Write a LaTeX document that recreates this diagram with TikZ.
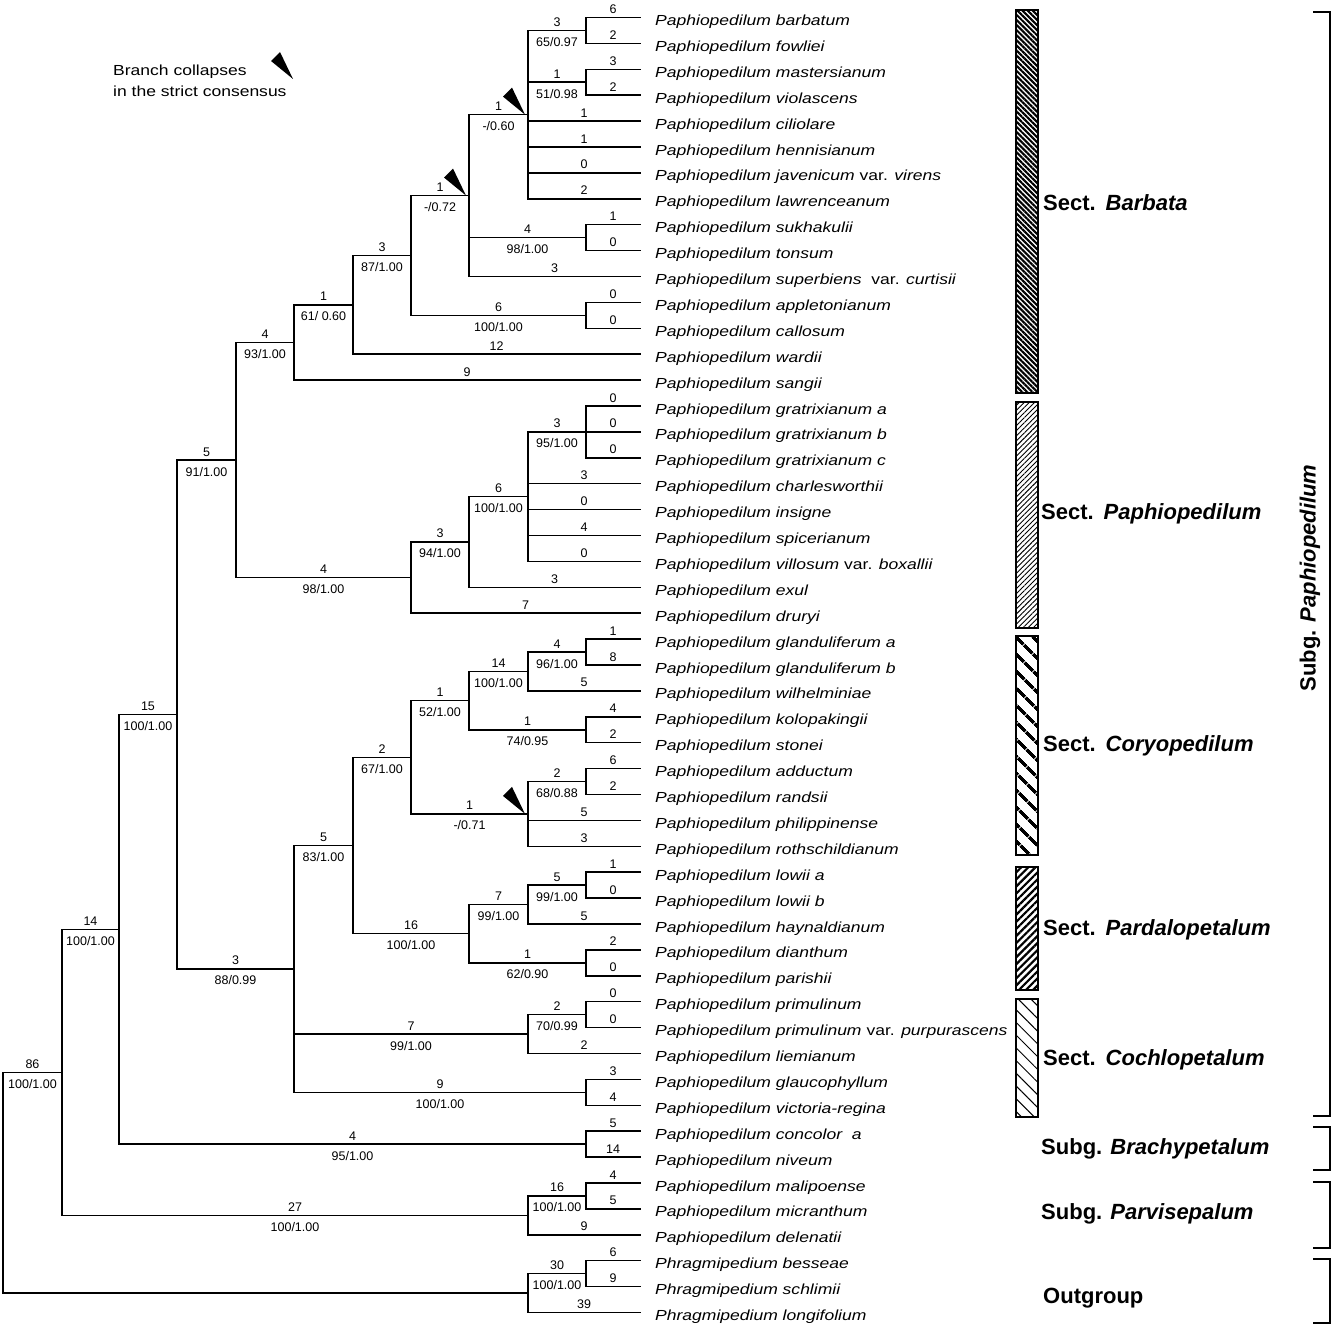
\documentclass[tikz,border=0pt]{standalone}
\usepackage{fontspec}
\setmainfont{Liberation Sans}
\newfontfamily\namefont[FakeStretch=1.2]{Liberation Sans}
\usetikzlibrary{calc,patterns.meta}
\newcommand\inode[4]{\path ($(#3)!.5!(#4)$) coordinate (m#1); \coordinate (#1) at (m#1 -| #2);}
\newcommand\vbr[3]{\draw[branch] (#1 |- #2) -- (#1 |- #3);}
\newcommand\hbr[4]{\draw[branch] (#1 |- #2) -- node[lenlab]{#3} node[suplab]{#4} (#2);}
\newcommand\hbl[3]{\draw[branch] (#1 |- #2) -- node[lenlab]{#3} (#2);}
\newcommand\hbn[2]{\draw[branch] (#1 |- #2) -- (#2);}
\newcommand\wedgeat[1]{\fill ($(#1)+(-3,0)$) -- ++(-22,-18) -- ++(9,-9) -- cycle;}
\begin{document}
\begin{tikzpicture}[x=1pt,y=-1pt,
  branch/.style={line width=1.5pt, line cap=rect},
  numfont/.style={font=\fontsize{12.5}{14}\selectfont},
  lenlab/.style={midway, anchor=base, yshift=4pt, inner sep=0pt, numfont},
  suplab/.style={midway, anchor=base, yshift=-16pt, inner sep=0pt, numfont},
  taxon/.style={anchor=base west, inner sep=0pt, font=\namefont\fontsize{14.6}{17}\selectfont\itshape},
  sect/.style={anchor=west, inner sep=0pt, font=\fontsize{22}{25}\selectfont\bfseries},
  bar/.style={line width=1.4pt},
  bracket/.style={line width=1.4pt}]
\useasboundingbox (0,0) rectangle (1334,1330);
% x levels
\foreach \xx in {3,62,119,177,236,294,353,411,469,528,586} {\coordinate (X\xx) at (\xx,0);}
% tips
\foreach \i in {1,...,51} {\coordinate (t\i) at (640,{17.5+(\i-1)*25.9});}
% internal nodes
\inode{A1}{X586}{t1}{t2}
\inode{A2}{X586}{t3}{t4}
\inode{A3}{X528}{A1}{t8}
\inode{A4}{X586}{t9}{t10}
\inode{A5}{X469}{A3}{t11}
\inode{A6}{X586}{t12}{t13}
\inode{A7}{X411}{A5}{A6}
\inode{A8}{X353}{A7}{t14}
\inode{A9}{X294}{A8}{t15}
\inode{B1}{X586}{t16}{t18}
\inode{B2}{X528}{B1}{t22}
\inode{B3}{X469}{B2}{t23}
\inode{B4}{X411}{B3}{t24}
\inode{C}{X236}{A9}{B4}
\inode{D1}{X586}{t25}{t26}
\inode{D2}{X528}{D1}{t27}
\inode{D3}{X586}{t28}{t29}
\inode{D4}{X469}{D2}{D3}
\inode{D5}{X586}{t30}{t31}
\inode{D6}{X528}{D5}{t33}
\inode{D7}{X411}{D4}{D6}
\inode{E1}{X586}{t34}{t35}
\inode{E2}{X528}{E1}{t36}
\inode{E3}{X586}{t37}{t38}
\inode{E4}{X469}{E2}{E3}
\inode{D8}{X353}{D7}{E4}
\inode{F1}{X586}{t39}{t40}
\inode{F2}{X528}{F1}{t41}
\inode{F3}{X586}{t42}{t43}
\inode{G}{X294}{D8}{F3}
\inode{H}{X177}{C}{G}
\inode{I1}{X586}{t44}{t45}
\inode{I}{X119}{H}{I1}
\inode{J1}{X586}{t46}{t47}
\inode{J2}{X528}{J1}{t48}
\inode{K}{X62}{I}{J2}
\inode{L1}{X586}{t49}{t50}
\inode{L2}{X528}{L1}{t51}
\inode{R}{X3}{K}{L2}
% verticals
\vbr{A1}{t1}{t2} \vbr{A2}{t3}{t4} \vbr{A3}{A1}{t8} \vbr{A4}{t9}{t10}
\vbr{A5}{A3}{t11} \vbr{A6}{t12}{t13} \vbr{A7}{A5}{A6} \vbr{A8}{A7}{t14}
\vbr{A9}{A8}{t15} \vbr{B1}{t16}{t18} \vbr{B2}{B1}{t22} \vbr{B3}{B2}{t23}
\vbr{B4}{B3}{t24} \vbr{C}{A9}{B4} \vbr{D1}{t25}{t26} \vbr{D2}{D1}{t27}
\vbr{D3}{t28}{t29} \vbr{D4}{D2}{D3} \vbr{D5}{t30}{t31} \vbr{D6}{D5}{t33}
\vbr{D7}{D4}{D6} \vbr{E1}{t34}{t35} \vbr{E2}{E1}{t36} \vbr{E3}{t37}{t38}
\vbr{E4}{E2}{E3} \vbr{D8}{D7}{E4} \vbr{F1}{t39}{t40} \vbr{F2}{F1}{t41}
\vbr{F3}{t42}{t43} \vbr{G}{D8}{F3} \vbr{H}{C}{G} \vbr{I1}{t44}{t45}
\vbr{I}{H}{I1} \vbr{J1}{t46}{t47} \vbr{J2}{J1}{t48} \vbr{K}{I}{J2}
\vbr{L1}{t49}{t50} \vbr{L2}{L1}{t51} \vbr{R}{K}{L2}
% horizontals: Barbata
\hbl{A1}{t1}{6} \hbl{A1}{t2}{2}
\hbl{A2}{t3}{3} \hbl{A2}{t4}{2}
\hbr{A3}{A1}{3}{65/0.97} \hbr{A3}{A2}{1}{51/0.98}
\hbl{A3}{t5}{1} \hbl{A3}{t6}{1} \hbl{A3}{t7}{0} \hbl{A3}{t8}{2}
\hbl{A4}{t9}{1} \hbl{A4}{t10}{0}
\hbr{A5}{A3}{1}{-/0.60} \hbr{A5}{A4}{4}{98/1.00} \hbl{A5}{t11}{3}
\hbl{A6}{t12}{0} \hbl{A6}{t13}{0}
\hbr{A7}{A5}{1}{-/0.72} \hbr{A7}{A6}{6}{100/1.00}
\hbr{A8}{A7}{3}{87/1.00} \hbl{A8}{t14}{12}
\hbr{A9}{A8}{1}{61/ 0.60} \hbl{A9}{t15}{9}
\hbr{C}{A9}{4}{93/1.00} \hbr{C}{B4}{4}{98/1.00}
% Paphiopedilum
\hbl{B1}{t16}{0} \hbl{B1}{t17}{0} \hbl{B1}{t18}{0}
\hbr{B2}{B1}{3}{95/1.00} \hbl{B2}{t19}{3} \hbl{B2}{t20}{0} \hbl{B2}{t21}{4} \hbl{B2}{t22}{0}
\hbr{B3}{B2}{6}{100/1.00} \hbl{B3}{t23}{3}
\hbr{B4}{B3}{3}{94/1.00} \hbl{B4}{t24}{7}
\hbr{H}{C}{5}{91/1.00} \hbr{H}{G}{3}{88/0.99}
% Coryopedilum
\hbl{D1}{t25}{1} \hbl{D1}{t26}{8}
\hbr{D2}{D1}{4}{96/1.00} \hbl{D2}{t27}{5}
\hbl{D3}{t28}{4} \hbl{D3}{t29}{2}
\hbr{D4}{D2}{14}{100/1.00} \hbr{D4}{D3}{1}{74/0.95}
\hbl{D5}{t30}{6} \hbl{D5}{t31}{2}
\hbr{D6}{D5}{2}{68/0.88} \hbl{D6}{t32}{5} \hbl{D6}{t33}{3}
\hbr{D7}{D4}{1}{52/1.00} \hbr{D7}{D6}{1}{-/0.71}
\hbr{D8}{D7}{2}{67/1.00} \hbr{D8}{E4}{16}{100/1.00}
% Pardalopetalum
\hbl{E1}{t34}{1} \hbl{E1}{t35}{0}
\hbr{E2}{E1}{5}{99/1.00} \hbl{E2}{t36}{5}
\hbl{E3}{t37}{2} \hbl{E3}{t38}{0}
\hbr{E4}{E2}{7}{99/1.00} \hbr{E4}{E3}{1}{62/0.90}
% Cochlopetalum
\hbr{G}{D8}{5}{83/1.00} \hbr{G}{F2}{7}{99/1.00} \hbr{G}{F3}{9}{100/1.00}
\hbl{F1}{t39}{0} \hbl{F1}{t40}{0}
\hbr{F2}{F1}{2}{70/0.99} \hbl{F2}{t41}{2}
\hbl{F3}{t42}{3} \hbl{F3}{t43}{4}
% rest
\hbr{I}{H}{15}{100/1.00} \hbr{I}{I1}{4}{95/1.00}
\hbl{I1}{t44}{5} \hbl{I1}{t45}{14}
\hbr{K}{I}{14}{100/1.00} \hbr{K}{J2}{27}{100/1.00}
\hbl{J1}{t46}{4} \hbl{J1}{t47}{5}
\hbr{J2}{J1}{16}{100/1.00} \hbl{J2}{t48}{9}
\hbr{R}{K}{86}{100/1.00} \hbn{R}{L2}
\hbl{L1}{t49}{6} \hbl{L1}{t50}{9}
\hbr{L2}{L1}{30}{100/1.00} \hbl{L2}{t51}{39}
% collapse markers
\wedgeat{A3} \wedgeat{A5} \wedgeat{D6}
\coordinate (lgw) at (296,79);
\wedgeat{lgw}
\node[anchor=west, align=left, inner sep=0pt, font=\namefont\fontsize{14.6}{21}\selectfont] (legend) at (113,81) {Branch collapses\\in the strict consensus};
% taxon names
\node[taxon] (n1) at ($(t1)+(15,8)$) {Paphiopedilum barbatum};
\node[taxon] (n2) at ($(t2)+(15,8)$) {Paphiopedilum fowliei};
\node[taxon] (n3) at ($(t3)+(15,8)$) {Paphiopedilum mastersianum};
\node[taxon] (n4) at ($(t4)+(15,8)$) {Paphiopedilum violascens};
\node[taxon] (n5) at ($(t5)+(15,8)$) {Paphiopedilum ciliolare};
\node[taxon] (n6) at ($(t6)+(15,8)$) {Paphiopedilum hennisianum};
\node[taxon] (n7) at ($(t7)+(15,8)$) {Paphiopedilum javenicum \textup{var.} virens};
\node[taxon] (n8) at ($(t8)+(15,8)$) {Paphiopedilum lawrenceanum};
\node[taxon] (n9) at ($(t9)+(15,8)$) {Paphiopedilum sukhakulii};
\node[taxon] (n10) at ($(t10)+(15,8)$) {Paphiopedilum tonsum};
\node[taxon] (n11) at ($(t11)+(15,8)$) {Paphiopedilum superbiens\ \ \textup{var.} curtisii};
\node[taxon] (n12) at ($(t12)+(15,8)$) {Paphiopedilum appletonianum};
\node[taxon] (n13) at ($(t13)+(15,8)$) {Paphiopedilum callosum};
\node[taxon] (n14) at ($(t14)+(15,8)$) {Paphiopedilum wardii};
\node[taxon] (n15) at ($(t15)+(15,8)$) {Paphiopedilum sangii};
\node[taxon] (n16) at ($(t16)+(15,8)$) {Paphiopedilum gratrixianum a};
\node[taxon] (n17) at ($(t17)+(15,8)$) {Paphiopedilum gratrixianum b};
\node[taxon] (n18) at ($(t18)+(15,8)$) {Paphiopedilum gratrixianum c};
\node[taxon] (n19) at ($(t19)+(15,8)$) {Paphiopedilum charlesworthii};
\node[taxon] (n20) at ($(t20)+(15,8)$) {Paphiopedilum insigne};
\node[taxon] (n21) at ($(t21)+(15,8)$) {Paphiopedilum spicerianum};
\node[taxon] (n22) at ($(t22)+(15,8)$) {Paphiopedilum villosum \textup{var.} boxallii};
\node[taxon] (n23) at ($(t23)+(15,8)$) {Paphiopedilum exul};
\node[taxon] (n24) at ($(t24)+(15,8)$) {Paphiopedilum druryi};
\node[taxon] (n25) at ($(t25)+(15,8)$) {Paphiopedilum glanduliferum a};
\node[taxon] (n26) at ($(t26)+(15,8)$) {Paphiopedilum glanduliferum b};
\node[taxon] (n27) at ($(t27)+(15,8)$) {Paphiopedilum wilhelminiae};
\node[taxon] (n28) at ($(t28)+(15,8)$) {Paphiopedilum kolopakingii};
\node[taxon] (n29) at ($(t29)+(15,8)$) {Paphiopedilum stonei};
\node[taxon] (n30) at ($(t30)+(15,8)$) {Paphiopedilum adductum};
\node[taxon] (n31) at ($(t31)+(15,8)$) {Paphiopedilum randsii};
\node[taxon] (n32) at ($(t32)+(15,8)$) {Paphiopedilum philippinense};
\node[taxon] (n33) at ($(t33)+(15,8)$) {Paphiopedilum rothschildianum};
\node[taxon] (n34) at ($(t34)+(15,8)$) {Paphiopedilum lowii a};
\node[taxon] (n35) at ($(t35)+(15,8)$) {Paphiopedilum lowii b};
\node[taxon] (n36) at ($(t36)+(15,8)$) {Paphiopedilum haynaldianum};
\node[taxon] (n37) at ($(t37)+(15,8)$) {Paphiopedilum dianthum};
\node[taxon] (n38) at ($(t38)+(15,8)$) {Paphiopedilum parishii};
\node[taxon] (n39) at ($(t39)+(15,8)$) {Paphiopedilum primulinum};
\node[taxon] (n40) at ($(t40)+(15,8)$) {Paphiopedilum primulinum \textup{var.} purpurascens};
\node[taxon] (n41) at ($(t41)+(15,8)$) {Paphiopedilum liemianum};
\node[taxon] (n42) at ($(t42)+(15,8)$) {Paphiopedilum glaucophyllum};
\node[taxon] (n43) at ($(t43)+(15,8)$) {Paphiopedilum victoria-regina};
\node[taxon] (n44) at ($(t44)+(15,8)$) {Paphiopedilum concolor\ \ a};
\node[taxon] (n45) at ($(t45)+(15,8)$) {Paphiopedilum niveum};
\node[taxon] (n46) at ($(t46)+(15,8)$) {Paphiopedilum malipoense};
\node[taxon] (n47) at ($(t47)+(15,8)$) {Paphiopedilum micranthum};
\node[taxon] (n48) at ($(t48)+(15,8)$) {Paphiopedilum delenatii};
\node[taxon] (n49) at ($(t49)+(15,8)$) {Phragmipedium besseae};
\node[taxon] (n50) at ($(t50)+(15,8)$) {Phragmipedium schlimii};
\node[taxon] (n51) at ($(t51)+(15,8)$) {Phragmipedium longifolium};
% section bars
\draw[bar, pattern={Lines[angle=-45,distance=3.6pt,line width=2.1pt]}] (1016,10) rectangle (1038,393);
\draw[bar, pattern={Lines[angle=45,distance=3.6pt,line width=0.9pt]}] (1016,402) rectangle (1038,628);
\draw[bar, pattern={Lines[angle=-45,distance=13pt,line width=3.5pt]}] (1016,636) rectangle (1038,855);
\draw[bar, pattern={Lines[angle=45,distance=5pt,line width=2.2pt]}] (1016,867) rectangle (1038,990);
\draw[bar, pattern={Lines[angle=-45,distance=9pt,line width=1pt]}] (1016,999) rectangle (1038,1117);
% section labels
\node[sect] (sBar) at (1043,203) {Sect.\hspace{0.45em}\textit{Barbata}};
\node[sect] (sPap) at (1041,514) {Sect.\hspace{0.45em}\textit{Paphiopedilum}};
\node[sect] (sCor) at (1043,746) {Sect.\hspace{0.45em}\textit{Coryopedilum}};
\node[sect] (sPar) at (1043,930) {Sect.\hspace{0.45em}\textit{Pardalopetalum}};
\node[sect] (sCoc) at (1043,1060) {Sect.\hspace{0.45em}\textit{Cochlopetalum}};
\node[sect] (gBra) at (1041,1149) {Subg. \textit{Brachypetalum}};
\node[sect] (gPar) at (1041,1214) {Subg. \textit{Parvisepalum}};
\node[sect] (gOut) at (1043,1298) {Outgroup};
\node[sect, anchor=center, rotate=90] (gPap) at (1310,578) {Subg. \textit{Paphiopedilum}};
% brackets
\draw[bracket] (1313,12) -- (1330,12) -- (1330,1116) -- (1313,1116);
\draw[bracket] (1313,1127) -- (1330,1127) -- (1330,1170) -- (1313,1170);
\draw[bracket] (1313,1182) -- (1330,1182) -- (1330,1248) -- (1313,1248);
\draw[bracket] (1313,1259) -- (1330,1259) -- (1330,1323) -- (1313,1323);
\end{tikzpicture}
\end{document}
